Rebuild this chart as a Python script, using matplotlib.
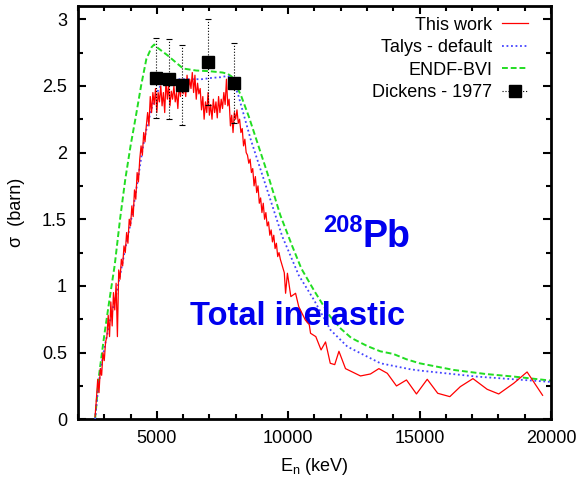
import numpy as np
import matplotlib
matplotlib.use("Agg")
import matplotlib.pyplot as plt
from matplotlib.lines import Line2D
from matplotlib.ticker import MultipleLocator

plt.rcParams['font.family'] = ['Liberation Sans', 'DejaVu Sans']

# --- This work: fine-binned region (50 keV grid) ---
fine_energy = np.arange(2650, 9750, 50)
fine_sigma = [
    0.02, 0.15, 0.30, 0.20, 0.38, 0.33, 0.50, 0.44, 0.58, 0.62,
    0.78, 0.62, 0.88, 0.70, 0.95, 0.82, 1.02, 0.62, 1.12, 1.05,
    1.20, 1.15, 1.30, 1.25, 1.40, 1.32, 1.50, 1.45, 1.60, 1.52,
    1.72, 1.65, 1.85, 1.78, 1.95, 2.05, 1.98, 2.15, 2.08, 2.20,
    2.30, 2.20, 2.42, 2.30, 2.45, 2.36, 2.48, 2.30, 2.45, 2.38,
    2.50, 2.35, 2.45, 2.30, 2.55, 2.40, 2.50, 2.35, 2.46, 2.40,
    2.50, 2.38, 2.45, 2.33, 2.50, 2.42, 2.55, 2.44, 2.50, 2.42,
    2.58, 2.46, 2.55, 2.48, 2.60, 2.45, 2.58, 2.40, 2.52, 2.44,
    2.48, 2.32, 2.42, 2.25, 2.38, 2.30, 2.45, 2.28, 2.36, 2.25,
    2.40, 2.30, 2.38, 2.26, 2.42, 2.30, 2.40, 2.33, 2.45, 2.36,
    2.55, 2.35, 2.40, 2.20, 2.28, 2.15, 2.30, 2.25, 2.32, 2.22,
    2.25, 2.15, 2.18, 2.05, 2.10, 2.00, 1.98, 1.92, 1.95, 1.85,
    1.88, 1.75, 1.82, 1.70, 1.75, 1.62, 1.66, 1.55, 1.62, 1.50,
    1.55, 1.45, 1.48, 1.38, 1.42, 1.33, 1.38, 1.28, 1.32, 1.22,
    1.25, 1.20,
]

# --- This work: coarse-binned region ---
coarse_energy = [9850, 9900, 9970, 10100, 10280, 10400, 10650, 10800, 10850,
                 11050, 11250, 11420, 11600, 11770, 11930, 12180, 12750, 13130,
                 13450, 13770, 14120, 14500, 14880, 15290, 15690, 16150, 16550,
                 17030, 17570, 18010, 18580, 19090, 19680]
coarse_sigma = [1.10, 0.945, 1.095, 0.92, 0.945, 0.845, 0.745, 0.71, 0.645,
                0.62, 0.52, 0.58, 0.42, 0.41, 0.51, 0.38, 0.325, 0.34,
                0.38, 0.345, 0.25, 0.295, 0.19, 0.30, 0.195, 0.17, 0.245,
                0.305, 0.225, 0.19, 0.27, 0.355, 0.18]

# --- Talys (default parameters) ---
talys_energy = [2650, 2750, 2860, 3000, 3240, 3450, 3620, 3800, 4000, 4160,
                4320, 4460, 4600, 4760, 4900, 5080, 5200, 5400, 5800, 6200,
                6700, 7100, 7430, 7690, 7850, 7940, 8100, 8570, 9200, 9775,
                9950, 10400, 10980, 11610, 12250, 13510, 14650, 15030, 17190,
                20000]
talys_sigma = [0.0, 0.20, 0.37, 0.53, 0.76, 0.93, 1.10, 1.28, 1.47, 1.65,
               1.85, 2.03, 2.17, 2.30, 2.40, 2.48, 2.52, 2.545, 2.55, 2.55,
               2.55, 2.56, 2.565, 2.575, 2.56, 2.52, 2.43, 2.10, 1.72, 1.37,
               1.29, 1.08, 0.895, 0.67, 0.545, 0.42, 0.375, 0.365, 0.32,
               0.28]

# --- ENDF/B-VI evaluation ---
endf_energy = [2650, 2800, 3000, 3200, 3400, 3600, 3800, 4000, 4200, 4400,
               4600, 4800, 4900, 5000, 5200, 5400, 5700, 6000, 6500, 7000,
               7500, 7700, 7850, 7950, 8200, 8500, 8700, 9200, 9700, 10150,
               10500, 11000, 11600, 12000, 12400, 13000, 13500, 14000, 14500,
               15000, 16300, 17500, 18600, 20000]
endf_sigma = [0.0, 0.33, 0.63, 0.90, 1.16, 1.50, 1.80, 2.05, 2.27, 2.50,
              2.70, 2.79, 2.81, 2.79, 2.76, 2.73, 2.68, 2.63, 2.615, 2.61,
              2.60, 2.59, 2.57, 2.53, 2.43, 2.27, 2.15, 1.85, 1.53, 1.30,
              1.13, 0.96, 0.77, 0.68, 0.61, 0.55, 0.51, 0.49, 0.45,
              0.42, 0.37, 0.34, 0.32, 0.29]

# --- Dickens 1977 measurement ---
dickens_energy = [4950, 5450, 5950, 6950, 7950]
dickens_sigma = [2.56, 2.55, 2.51, 2.68, 2.52]
dickens_err = [0.30, 0.30, 0.30, 0.32, 0.30]

work_energy = np.concatenate([fine_energy, coarse_energy])
work_sigma = np.concatenate([fine_sigma, coarse_sigma])

fig = plt.figure(figsize=(5.76, 4.87), dpi=100)
ax = fig.add_axes([0.1354, 0.139, 0.8212, 0.849])

green_style = dict(color='#22dd22', lw=1.4, linestyle=(0, (3, 1.5)))
blue_style = dict(color='#4444ff', lw=1.3, linestyle=(0, (1, 1.5)))
red_style = dict(color='#ff0000', lw=0.9)

ax.plot(endf_energy, endf_sigma, zorder=2, **green_style)
ax.plot(talys_energy, talys_sigma, zorder=3, **blue_style)
ax.plot(work_energy, work_sigma, zorder=4, **red_style)
eb = ax.errorbar(dickens_energy, dickens_sigma, yerr=dickens_err, fmt='s',
                 color='black', ms=9, elinewidth=0.8, capsize=2.5,
                 capthick=0.8, zorder=5)
eb[2][0].set_linestyle(':')

ax.set_xlim(2000, 20000)
ax.set_ylim(0, 3.1)
ax.xaxis.set_major_locator(MultipleLocator(5000))
ax.xaxis.set_minor_locator(MultipleLocator(1000))
ax.yaxis.set_minor_locator(MultipleLocator(0.25))
ax.set_yticks([0, 0.5, 1, 1.5, 2, 2.5, 3])
ax.set_yticklabels(['0', '0.5', '1', '1.5', '2', '2.5', '3'])
ax.tick_params(which='both', direction='in', top=True, right=True,
               labelsize=13, width=1.5)
ax.tick_params(which='major', length=6, pad=8)
ax.tick_params(which='minor', length=3.5)
for sp in ax.spines.values():
    sp.set_linewidth(2)

ax.set_xlabel('E$_\\mathregular{n}$ (keV)', fontsize=13, labelpad=6)
ax.set_ylabel('σ  (barn)', fontsize=13, labelpad=12)

legend_handles = [
    Line2D([], [], **red_style),
    Line2D([], [], **blue_style),
    Line2D([], [], **green_style),
    Line2D([], [], color='black', lw=0.8, linestyle=':', marker='s', ms=8),
]
legend_labels = ['This work', 'Talys - default', 'ENDF-BVI', 'Dickens - 1977']
ax.legend(legend_handles, legend_labels, loc='upper right',
          frameon=False, markerfirst=False, fontsize=13, handlelength=1.45,
          handletextpad=0.55, labelspacing=0.3, borderaxespad=0.2,
          bbox_to_anchor=(0.975, 1.0))

ax.text(0.6025, 0.4166, 'Pb', transform=ax.transAxes, ha='left',
        va='baseline', color='#0000ee', fontsize=27, fontweight='bold')
ax.text(0.6025, 0.452, '208', transform=ax.transAxes, ha='right',
        va='baseline', color='#0000ee', fontsize=17, fontweight='bold')
ax.text(0.237, 0.228, 'Total inelastic', transform=ax.transAxes,
        ha='left', va='baseline', color='#0000ee', fontsize=23.5,
        fontweight='bold')

fig.savefig('out.png', dpi=100)
